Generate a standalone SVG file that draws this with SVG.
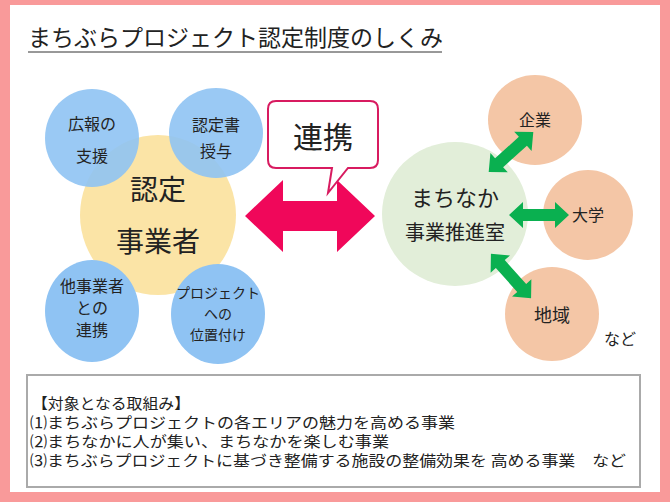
<svg xmlns="http://www.w3.org/2000/svg" width="670" height="502" viewBox="0 0 670 502">
<style>
text{font-family:"Noto Sans CJK JP","Noto Sans",sans-serif;fill:#222}
.b{fill:#8fc3f3}
.o{fill:#f4c6a6}
.g{fill:#0ab050}
.t14{font-size:14px;text-anchor:middle}
.t16{font-size:16px;text-anchor:middle}
.l{font-size:15px}
</style>
<defs>
<polygon id="ga" points="-30,0 -16,-13 -16,-6 16,-6 16,-13 30,0 16,13 16,6 -16,6 -16,13"/>
</defs>
<rect x="0" y="0" width="670" height="502" fill="#f99a9a"/>
<rect x="10" y="5" width="650" height="487" fill="#fff"/>
<g id="title"><text x="28" y="46" style="font-size:23px">まちぶらプロジェクト認定制度のしくみ</text>
<line x1="28" y1="52" x2="442" y2="52" stroke="#333" stroke-width="1"/></g>
<g id="nintei"><ellipse cx="158" cy="215" rx="78" ry="80" fill="#fbe4a6"/>
<text x="158" y="200" class="t16" style="font-size:28px">認定</text>
<text x="158" y="252" class="t16" style="font-size:28px">事業者</text></g>
<g id="kouhou"><ellipse cx="92" cy="138" rx="47" ry="49" class="b" opacity="0.9"/>
<text x="92" y="130" class="t16">広報の</text><text x="92" y="162" class="t16">支援</text></g>
<g id="ninteisho"><ellipse cx="216" cy="133" rx="47" ry="45" class="b" opacity="0.9"/>
<text x="216" y="131" class="t16">認定書</text><text x="216" y="157" class="t16">授与</text></g>
<g id="tajigyo"><ellipse cx="92" cy="311" rx="47" ry="51" class="b"/>
<text x="92" y="292" class="t16">他事業者</text><text x="92" y="314" class="t16">との</text><text x="92" y="336" class="t16">連携</text></g>
<g id="project"><ellipse cx="218" cy="314" rx="47" ry="50" class="b"/>
<text x="218" y="298" class="t14">プロジェクト</text><text x="218" y="319" class="t14">への</text><text x="218" y="340" class="t14">位置付け</text></g>
<g id="machinaka"><ellipse cx="455" cy="214" rx="73" ry="72" fill="#e2eed9"/>
<text x="455" y="206" class="t16" style="font-size:22px">まちなか</text>
<text x="455" y="240" class="t16" style="font-size:20px">事業推進室</text></g>
<g id="kigyo"><ellipse cx="535" cy="120" rx="47" ry="45" class="o"/><text x="535" y="126" class="t16">企業</text></g>
<g id="daigaku"><ellipse cx="588" cy="215" rx="45" ry="45" class="o"/><text x="588" y="221" class="t16">大学</text></g>
<g id="chiiki"><ellipse cx="552" cy="314" rx="47" ry="47" class="o"/><text x="552" y="322" class="t16" style="font-size:18px">地域</text></g>
<text x="620" y="345" class="t16">など</text>
<g id="connectors">
<polygon points="245,216 283,180 283,201 337,201 337,180 375,216 337,252 337,231 283,231 283,252" fill="#f0075a"/>
<use href="#ga" transform="translate(511,152) rotate(-42)" class="g"/>
<use href="#ga" transform="translate(539,215)" class="g"/>
<use href="#ga" transform="translate(511,276) rotate(48)" class="g"/>
</g>
<g id="renkei"><path d="M276,101 H370 Q378,101 378,109 V160 Q378,168 370,168 H348 L328,193 L332,168 H276 Q268,168 268,160 V109 Q268,101 276,101 Z" fill="#fff" stroke="#d81b60" stroke-width="2"/>
<text x="323" y="148" class="t16" style="font-size:30px">連携</text></g>
<g id="box"><rect x="27" y="375" width="613" height="112" fill="#fff" stroke="#aaa" stroke-width="2"/>
<text x="32" y="409" class="l" textLength="158" lengthAdjust="spacingAndGlyphs">【対象となる取組み】</text>
<text x="30" y="428" class="l" textLength="425" lengthAdjust="spacingAndGlyphs">⑴まちぶらプロジェクトの各エリアの魅力を高める事業</text>
<text x="30" y="447" class="l" textLength="359" lengthAdjust="spacingAndGlyphs">⑵まちなかに人が集い、まちなかを楽しむ事業</text>
<text x="30" y="466" class="l" textLength="596" lengthAdjust="spacingAndGlyphs">⑶まちぶらプロジェクトに基づき整備する施設の整備効果を 高める事業　など</text></g>
</svg>
